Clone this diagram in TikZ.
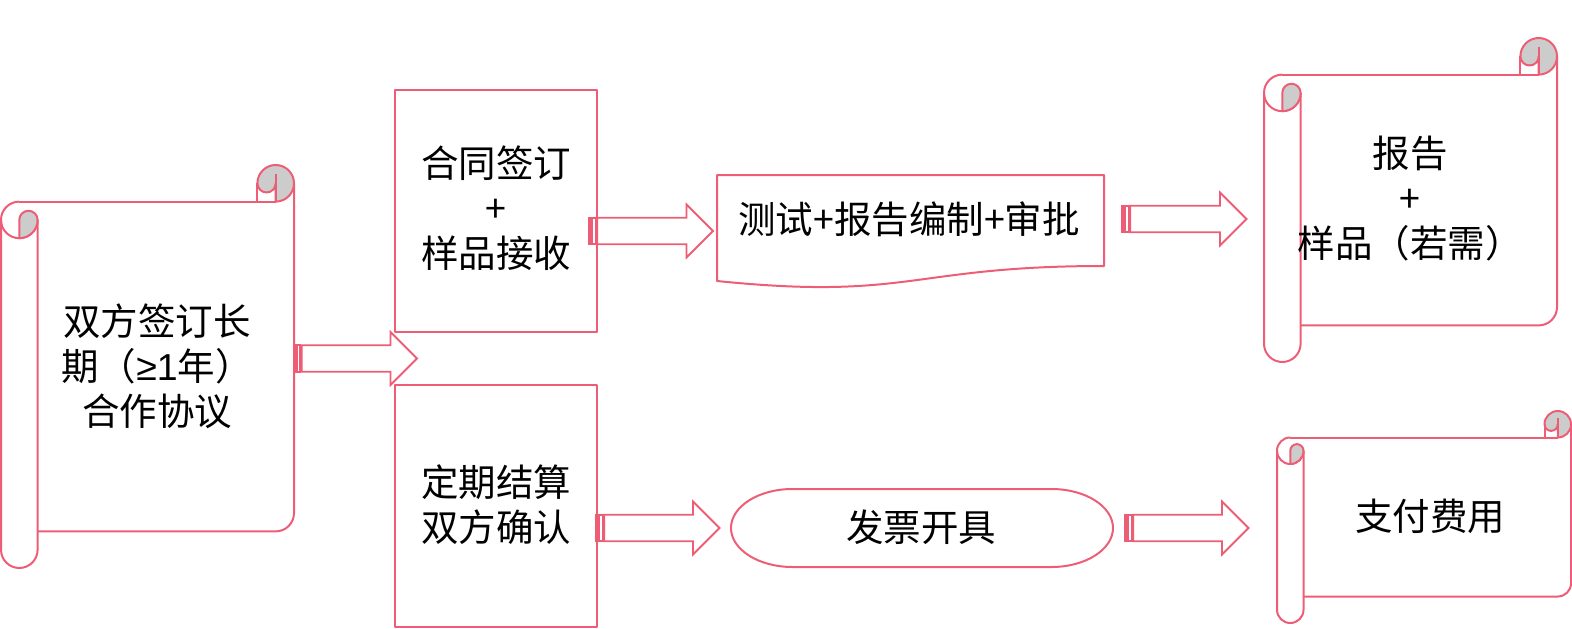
\documentclass[tikz,border=0pt]{standalone}
\usepackage{fontspec}
\newfontfamily\cjk{Noto Sans CJK SC}
\newfontfamily\symf{Liberation Sans}
\definecolor{pk}{RGB}{237,94,118}
\definecolor{gr}{RGB}{204,204,204}
\tikzset{
  sc/.style={draw=pk, line width=2pt, line join=round},
  grey/.style={sc, fill=gr},
  ar/.style={draw=pk, line width=1.8pt, fill=white},
  txt/.style={font=\cjk\fontsize{37.5}{45}\selectfont, align=center, inner sep=0pt, text=black}
}
% horizontal scroll: left, top, width, height, curl size (pixel coords, y down)
\newcommand\myscroll[5]{%
  \pgfmathsetmacro\sL{#1}\pgfmathsetmacro\sT{#2}%
  \pgfmathsetmacro\sR{#1+#3}\pgfmathsetmacro\sB{#2+#4}%
  \pgfmathsetmacro\cA{#5}\pgfmathsetmacro\cB{#5/2}\pgfmathsetmacro\cC{#5/4}%
  \draw[sc] (\sL+\cB,\sT+\cA) -- (\sR-\cB,\sT+\cA);
  \draw[sc] (\sR,\sT+\cB) -- (\sR,\sB-\cA-\cB) arc[start angle=0,end angle=90,radius=\cB] -- (\sL+\cA,\sB-\cA);
  \draw[sc] (\sL+\cA,\sT+\cA+\cB) -- (\sL+\cA,\sB-\cB) arc[start angle=0,end angle=180,radius=\cB] -- (\sL,\sT+\cA+\cB);
  \draw[sc] (\sL+\cB,\sT+\cA) arc[start angle=270,end angle=0,radius=\cB];
  \draw[grey] (\sL+\cB,\sT+\cA+\cB) arc[start angle=180,end angle=360,radius=\cC] arc[start angle=0,end angle=90,radius=\cB] -- cycle;
  \draw[grey] (\sR-\cA,\sT+\cB) arc[start angle=180,end angle=450,radius=\cB] -- (\sR-\cB,\sT+\cB) arc[start angle=0,end angle=180,radius=\cC] -- cycle;
  \draw[sc] (\sR-\cA,\sT+\cB) -- (\sR-\cA,\sT+\cA);
  \draw[sc] (\sR-\cB,\sT+\cB-\cC) -- (\sR-\cB,\sT+\cA);
}
% striped right arrow: left x, centre y, width (height 53)
\newcommand\sarrow[3]{%
  \pgfmathsetmacro\aX{#1}\pgfmathsetmacro\aY{#2}\pgfmathsetmacro\aW{#3}%
  \draw[ar] (\aX,\aY-13.25) rectangle (\aX+1.66,\aY+13.25);
  \draw[ar] (\aX+3.31,\aY-13.25) rectangle (\aX+6.63,\aY+13.25);
  \draw[ar] (\aX+8.28,\aY-13.25) -- (\aX+\aW-26.5,\aY-13.25) -- (\aX+\aW-26.5,\aY-26.5)
    -- (\aX+\aW,\aY) -- (\aX+\aW-26.5,\aY+26.5) -- (\aX+\aW-26.5,\aY+13.25) -- (\aX+8.28,\aY+13.25) -- cycle;
}
\begin{document}
\begin{tikzpicture}[x=1pt,y=-1pt]
\useasboundingbox (0,0) rectangle (1572,629);
% scrolls
\myscroll{1}{165}{293}{403}{36.6}
\myscroll{1264}{38}{293}{324}{36.6}
\myscroll{1277}{411}{294}{212}{26.5}
% boxes
\draw[sc] (395,90) rectangle (597,332);
\draw[sc] (395,385) rectangle (597,627);
% document shape
\draw[sc] (717,175) -- (1104,175) -- (1104,266) .. controls (910.5,266) and (910.5,300.7) .. (717,281) -- cycle;
% terminator
\draw[sc] (792.5,489) -- (1051.5,489) arc[start angle=270,end angle=450,x radius=61.5,y radius=39]
  -- (792.5,567) arc[start angle=90,end angle=270,x radius=61.5,y radius=39] -- cycle;
% arrows
\sarrow{293.5}{358.5}{123.5}
\sarrow{589}{231}{124}
\sarrow{1122}{219}{124.5}
\sarrow{596}{528}{123.5}
\sarrow{1125}{528}{123.5}
% texts
\node[txt] (agree) at (157,366) {双方签订长\\期（{\symf ≥1}年）\\合作协议};
\node[txt] (sign) at (496,208) {合同签订\\+\\样品接收};
\node[txt] (settle) at (496,505) {定期结算\\双方确认};
\node[txt] (test) at (909,219) {测试+报告编制+审批};
\node[txt] (report) at (1410,199) {报告\\+\\样品（若需）};
\node[txt] (invoice) at (921,527) {发票开具};
\node[txt] (pay) at (1430,516) {支付费用};
\end{tikzpicture}
\end{document}
